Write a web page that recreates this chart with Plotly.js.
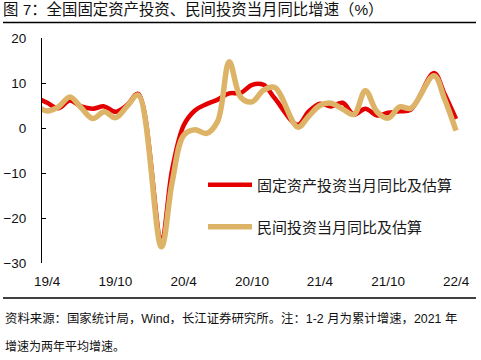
<!DOCTYPE html>
<html>
<head>
<meta charset="utf-8">
<script src="https://cdn.plot.ly/plotly-3.0.1.min.js"></script>
<style>html,body{margin:0;padding:0;background:#fff;}#chart{width:481px;height:360px;}</style>
</head>
<body>
<div id="chart"></div>
<script>
// ---- data (January is merged into February: "1-2月") ----
const months = ['2019-03-15','2019-04-15','2019-05-15','2019-06-15','2019-07-15','2019-08-15','2019-09-15','2019-10-15','2019-11-15','2019-12-15',
  '2020-02-15','2020-03-15','2020-04-15','2020-05-15','2020-06-15','2020-07-15','2020-08-15','2020-09-15','2020-10-15','2020-11-15','2020-12-15',
  '2021-02-15','2021-03-15','2021-04-15','2021-05-15','2021-06-15','2021-07-15','2021-08-15','2021-09-15','2021-10-15','2021-11-15','2021-12-15',
  '2022-02-15','2022-03-15','2022-04-15'];
const faiMonthly = [6.9,5.6,4.4,6.1,4.8,4.3,4.8,3.6,5.1,7.6,
  -24.5,-9.2,0.6,3.9,5.3,6.3,7.7,7.8,9.6,9.6,6.6,
  0.7,3.6,5.4,4.8,5.6,3.0,4.3,2.8,3.4,3.7,4.1,
  12.2,7.6,2.0];
const privateMonthly = [5.0,3.8,4.7,6.9,4.5,2.1,3.6,2.3,4.8,7.3,
  -26.4,-12.0,-1.6,-0.4,-1.2,1.5,14.7,6.8,5.8,8.4,9.0,
  0.2,2.5,5.0,5.5,4.2,3.0,8.3,3.6,2.2,4.7,4.4,
  11.6,6.5,-0.6];
const seriesNames = ['固定资产投资当月同比及估算','民间投资当月同比及估算'];
const tickLabelDates = ['2019-04-15','2019-10-15','2020-04-15','2020-10-15','2021-04-15','2021-10-15','2022-04-15'];
const tickLabels = ['19/4','19/10','20/4','20/10','21/4','21/10','22/4'];
const tickMarkDates = ['2019-04-01','2019-10-01','2020-04-01','2020-10-01','2021-04-01','2021-10-01','2022-04-01'];
const yTicks = [-30,-20,-10,0,10,20];

const titleText = '图 7：全国固定资产投资、民间投资当月同比增速（%）';
const note1 = '资料来源：国家统计局，Wind，长江证券研究所。注：1-2 月为累计增速，2021 年';
const note2 = '增速为两年平均增速。';

// ---- layout geometry ----
const W = 481, H = 360;
const M = {l: 42, r: 19, t: 38, b: 97};
const PW = W - M.l - M.r, PH = H - M.t - M.b;
const px2x = px => (px - M.l) / PW;
const py2y = py => (H - M.b - py) / PH;
const xRange = ['2019-04-01', '2022-05-01'];
const yRange = [-30, 20];

const RED = '#E40000', GOLD = '#DDB467';
const CJK = 'Liberation Sans, Noto Sans CJK SC, sans-serif';

const traces = [
  {x: months, y: faiMonthly, name: seriesNames[0], type: 'scatter', mode: 'lines',
   line: {color: RED, width: 4.5, shape: 'spline', smoothing: 1}, legend: 'legend'},
  {x: months, y: privateMonthly, name: seriesNames[1], type: 'scatter', mode: 'lines',
   line: {color: GOLD, width: 5.5, shape: 'spline', smoothing: 1}, legend: 'legend2'}
];

const legendCommon = {xanchor: 'left', yanchor: 'middle', bgcolor: 'rgba(0,0,0,0)', itemwidth: 44,
  font: {family: CJK, size: 15, color: '#1a1a1a'}};

const layout = {
  width: W, height: H,
  margin: M,
  paper_bgcolor: '#fff', plot_bgcolor: '#fff',
  showlegend: true,
  title: {text: titleText, font: {family: CJK, size: 15.4, color: '#111'},
          x: 3 / W, xref: 'container', xanchor: 'left', y: 1 - 10 / H, yref: 'container', yanchor: 'middle'},
  xaxis: {type: 'date', range: xRange, showgrid: false, zeroline: false, showline: false,
          ticks: '', tickmode: 'array', tickvals: tickLabelDates, ticktext: tickLabels,
          tickfont: {family: 'Liberation Sans, Arial, sans-serif', size: 13.5, color: '#111'},
          ticklabelstandoff: 8, fixedrange: true},
  xaxis2: {type: 'date', range: xRange, overlaying: 'x', anchor: 'free', position: (0 - yRange[0]) / (yRange[1] - yRange[0]),
           side: 'bottom', showgrid: false, zeroline: false, showline: true, linecolor: '#000', linewidth: 1,
           ticks: 'inside', ticklen: 5, tickwidth: 1, tickcolor: '#000', tickmode: 'array', tickvals: tickMarkDates,
           showticklabels: false},
  yaxis: {range: yRange, tickmode: 'array', tickvals: yTicks, showgrid: false, zeroline: false,
          showline: true, linecolor: '#000', linewidth: 1, ticks: 'inside', ticklen: 4, tickcolor: '#000',
          tickfont: {family: 'Liberation Sans, Arial, sans-serif', size: 13.5, color: '#111'},
          ticklabelstandoff: 12, fixedrange: true},
  legend: Object.assign({x: px2x(203), y: py2y(185)}, legendCommon),
  legend2: Object.assign({x: px2x(203), y: py2y(227)}, legendCommon),
  shapes: [
    {type: 'line', xref: 'paper', yref: 'paper', x0: px2x(3), x1: px2x(476), y0: py2y(22.5), y1: py2y(22.5),
     line: {color: '#000', width: 1.5}},
    {type: 'line', xref: 'paper', yref: 'paper', x0: px2x(3), x1: px2x(476), y0: py2y(298), y1: py2y(298),
     line: {color: '#000', width: 1.5}}
  ],
  annotations: [
    {text: note1, xref: 'paper', yref: 'paper', x: px2x(3), y: py2y(318), xanchor: 'left', yanchor: 'middle',
     showarrow: false, font: {family: CJK, size: 12.4, color: '#111'}},
    {text: note2, xref: 'paper', yref: 'paper', x: px2x(3), y: py2y(347), xanchor: 'left', yanchor: 'middle',
     showarrow: false, font: {family: CJK, size: 12, color: '#111'}}
  ]
};

Plotly.newPlot('chart', traces, layout, {displayModeBar: false, staticPlot: true});
</script>
</body>
</html>
